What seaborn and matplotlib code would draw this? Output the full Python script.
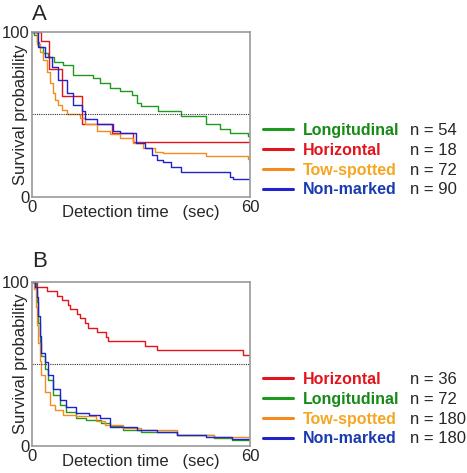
import numpy as np
import pandas as pd
import seaborn as sns
import matplotlib.pyplot as plt
from matplotlib.lines import Line2D

# panel A (Kaplan-Meier style step curves, survival in %)
a_long_t = [0, 0.5, 1.5, 2, 3, 4.5, 6, 8.6, 11.4, 16.8, 18.7, 21.5, 24.2, 27.4, 29, 30, 34.7, 41, 48, 51.7, 54.5, 59.4, 60]
a_long_s = [100, 98, 94, 91, 87, 85, 82, 80, 74, 72, 69, 66, 64, 62, 57, 55, 52, 49, 44, 41, 39, 37, 37]
a_hor_t = [0, 2.5, 4.8, 8.2, 13.7, 21.9, 27.9, 60]
a_hor_s = [100, 94.4, 77.8, 61.1, 44.4, 38.9, 33.3, 33.3]
a_tow_t = [0, 1.3, 2.2, 3.1, 4, 5, 5.7, 6.3, 7.2, 8.2, 9.5, 13.2, 14.6, 17.8, 21.5, 24.2, 27.8, 30.6, 33.8, 36, 48, 59.5, 60]
a_tow_s = [100, 93, 88, 83, 76, 69, 63, 59, 56, 53, 50, 48, 44, 40, 38, 36, 32.7, 29.6, 27.5, 26.5, 25, 23, 23]
a_non_t = [0, 1.7, 3.6, 5.4, 7.2, 9.5, 11.4, 13.7, 14.6, 17.8, 22.4, 24.2, 28.7, 31, 33, 34.4, 36, 38.3, 41, 54.5, 55.4, 60]
a_non_s = [100, 91, 85, 79, 71, 63, 56, 52, 47, 44, 40, 38.6, 32.7, 29.6, 25.5, 22.4, 21.4, 18.4, 15, 12, 11, 11]

# panel B
b_hor_t = [0, 1.5, 4, 6.8, 8.2, 10, 10.5, 12.3, 13.2, 14.6, 15.5, 17.8, 20.5, 21, 31, 34.3, 58, 60]
b_hor_s = [100, 97.2, 94.4, 91.7, 88.9, 86.1, 83.3, 80.6, 77.8, 75, 72.2, 69.4, 66.7, 63.9, 61.1, 58.3, 55.6, 55.6]
b_long_t = [0, 1, 1.3, 1.7, 2.2, 2.6, 3.5, 4.4, 5.8, 7.6, 9.4, 12, 15, 19, 21.5, 25, 30, 40, 50, 55, 60]
b_long_s = [100, 96, 88, 75, 63, 55, 47, 40, 31, 25, 21, 17, 16, 14, 12, 10, 8.5, 6.5, 5, 3.5, 3.5]
b_tow_t = [0, 0.5, 1, 1.3, 1.7, 2.1, 2.6, 3.5, 4.9, 6.3, 8.5, 12, 17.5, 20, 25, 30, 40, 50, 60]
b_tow_s = [100, 96, 85, 74, 63, 52, 43, 33, 25, 22, 19, 18, 15, 13, 11, 9.5, 7, 5.5, 4]
b_non_t = [0, 0.8, 1.3, 1.7, 2.2, 2.6, 3.5, 4.4, 5.8, 7.6, 9.4, 12.1, 15.8, 18.7, 21.5, 28.8, 34.3, 39.8, 48, 55, 60]
b_non_s = [100, 97, 91, 79, 67, 57, 51, 43, 35, 28, 24, 20, 19, 17, 11.8, 9.8, 8.7, 6.7, 5.7, 4, 4]

colors = {"Longitudinal": "#1f9a1f", "Horizontal": "#e3141c",
          "Tow-spotted": "#f28c1e", "Non-marked": "#2222cc"}
text_colors = {"Longitudinal": "#178a17", "Horizontal": "#e3141c",
               "Tow-spotted": "#f5a623", "Non-marked": "#1a3cb0"}

panel_a = [("Longitudinal", a_long_t, a_long_s, 54), ("Horizontal", a_hor_t, a_hor_s, 18),
           ("Tow-spotted", a_tow_t, a_tow_s, 72), ("Non-marked", a_non_t, a_non_s, 90)]
panel_b = [("Horizontal", b_hor_t, b_hor_s, 36), ("Longitudinal", b_long_t, b_long_s, 72),
           ("Tow-spotted", b_tow_t, b_tow_s, 180), ("Non-marked", b_non_t, b_non_s, 180)]

sns.set_style("white")
plt.rcParams["font.family"] = ["Liberation Sans", "DejaVu Sans"]

fig = plt.figure(figsize=(4.67, 4.73), dpi=100)
ax_a = fig.add_axes([0.0685, 0.5835, 0.4668, 0.3489])
ax_b = fig.add_axes([0.0685, 0.0571, 0.4668, 0.3467])


def draw(ax, panel, letter, letter_y, leg_top):
    rows = []
    for name, t, s, n in panel:
        rows.append(pd.DataFrame({"t": t, "s": s, "group": name}))
    df = pd.concat(rows, ignore_index=True)
    sns.lineplot(data=df, x="t", y="s", hue="group", palette=colors,
                 hue_order=[p[0] for p in panel], drawstyle="steps-post",
                 estimator=None, linewidth=1.0, legend=False, ax=ax)
    ax.axhline(50, color="#333333", lw=0.8, ls=(0, (1, 1)))
    ax.set_xlim(0, 60)
    ax.set_ylim(0, 100)
    ax.set_xticks([0, 60])
    ax.set_yticks([0, 100])
    ax.tick_params(length=0, labelsize=12, pad=2)
    ax.set_xlabel("Detection time   (sec)", fontsize=12, labelpad=-7)
    ax.set_ylabel("Survival probability", fontsize=12, labelpad=-19)
    for sp in ax.spines.values():
        sp.set_color("#999999")
        sp.set_linewidth(1.2)
    ax.text(0.0, letter_y, letter, transform=ax.transAxes, fontsize=16, va="baseline")

    handles = [Line2D([], [], color=colors[p[0]], lw=2.2) for p in panel]
    leg = ax.legend(handles, [p[0] for p in panel], loc="upper left",
                    bbox_to_anchor=(263 / 467, leg_top / 473),
                    bbox_transform=fig.transFigure, frameon=False,
                    prop={"weight": "bold", "size": 11.5}, handlelength=1.9,
                    handletextpad=0.6, labelspacing=0.3, borderaxespad=0,
                    borderpad=0)
    for txt, p in zip(leg.get_texts(), panel):
        txt.set_color(text_colors[p[0]])
    fig.canvas.draw()
    for txt, p in zip(leg.get_texts(), panel):
        bb = txt.get_window_extent()
        fig.text(410 / 467, (bb.y0 + bb.y1) / 2 / fig.bbox.height, f"n = {p[3]}",
                 fontsize=12, va="center", ha="left")


draw(ax_a, panel_a, "A", 1.075, 473 - 123)
draw(ax_b, panel_b, "B", 1.092, 473 - 372)

fig.savefig("out.png", dpi=100)
